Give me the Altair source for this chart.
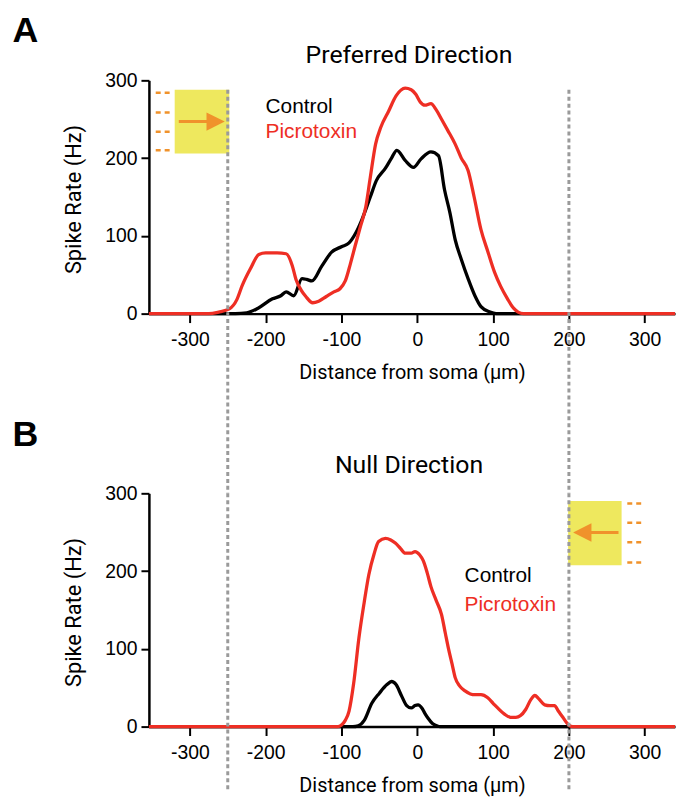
import altair as alt
import pandas as pd

# ---------------- data ----------------
pref_ctrl_x = [-354, -240, -225, -210, -191, -180, -173, -163, -152, -146, -139, -126, -113,
               -100, -90, -81, -73, -62, -54, -42, -34, -27, -16, -5, 5, 18, 28, 36, 43,
               50, 58, 67, 76, 84, 96, 104, 340]
pref_ctrl_y = [0, 0, 1, 7, 19, 23, 28, 23, 45, 44, 42, 61, 79,
               86, 91, 104, 121, 150, 171, 187, 200, 210, 197, 188, 199, 208, 203, 159, 130,
               95, 70, 45, 23, 9, 2, 0, 0]

pref_ptx_x = [-354, -275, -262, -248, -238, -231, -220, -209, -200, -185, -173, -165, -160,
              -153, -147, -138, -130, -120, -110, -102, -95, -88, -82, -75, -68, -62, -55,
              -48, -38, -28, -16, -8, -2, 4, 10, 18, 25, 32, 40, 50, 58, 67, 75, 84, 93,
              102, 110, 119, 127, 133, 140, 340]
pref_ptx_y = [0, 0, 2, 6, 18, 36, 58, 76, 78, 78, 77, 62, 44,
              30, 22, 14, 16, 22, 28, 32, 42, 65, 87, 112, 137, 175, 218,
              240, 260, 280, 290, 288, 282, 272, 268, 270, 262, 250, 236, 218, 200, 184, 150, 108, 80,
              53, 35, 19, 7, 2, 0, 0]

null_ctrl_x = [-354, -85, -78, -70, -60, -50, -40, -34, -28, -21, -14, -8, -3, 1, 6, 10, 14, 20, 26, 30, 340]
null_ctrl_y = [0, 0, 1, 8, 30, 43, 54, 58, 54, 40, 27, 24, 27, 28, 24, 17, 11, 4, 1, 0, 0]

null_ptx_x = [-354, -105, -100, -95, -90, -84, -77, -70, -64, -57, -51, -42, -35, -29, -22, -16,
              -8, -3, 3, 8, 13, 18, 25, 32, 37, 41, 46, 50, 56, 63, 70, 76, 84, 93, 100, 106,
              115, 123, 130, 136, 143, 150, 155, 160, 168, 175, 181, 186, 192, 197, 201, 205, 340]
null_ptx_y = [0, 0, 2, 8, 20, 55, 114, 160, 195, 222, 238, 242, 240, 236, 229, 223,
              223, 225, 221, 213, 198, 180, 162, 144, 120, 101, 80, 63, 52, 46, 42, 41, 41, 37, 30, 24,
              16, 12, 12, 14, 22, 35, 40, 36, 28, 27, 27, 20, 12, 5, 1, 0, 0]

x_ticks = [-300, -200, -100, 0, 100, 200, 300]
y_ticks = [0, 100, 200, 300]
marker_x = [-250, 200]

# stimulus annotation (bar + arrow + dashes), in data units
pref_box = {"x": [-320], "x2": [-248], "y": [206], "y2": [288]}
pref_dash_y = [284, 258.5, 234, 210]
pref_dash_x = (-345, -325)
pref_arrow = {"x": [-314.6], "x2": [-266], "y": [247]}

null_box = {"x": [199], "x2": [269.5], "y": [207.5], "y2": [290]}
null_dash_y = [287, 262, 237, 211]
null_dash_x = (277, 297)
null_arrow = {"x": [217.6], "x2": [265.4], "y": [249.6]}

# ---------------- styling ----------------
W, H = 530, 235
RED = "#EE2E24"
GRAY = "#9a9a9a"
YELLOW = "#EEE85E"
ORANGE = "#F0922B"
TICK_FONT = "Liberation Sans"
TITLE_FONT = "Roboto"
HYPHEN_LABEL = "datum.value < 0 ? '-' + abs(datum.value) : '' + datum.value"

xs = alt.Scale(domain=[-354, 340], nice=False, zero=False)
ys = alt.Scale(domain=[0, 300], nice=False, zero=True)


def x_axis():
    return alt.Axis(values=x_ticks, title="Distance from soma (μm)", grid=False,
                    domainColor="black", domainWidth=2.5, tickColor="black", tickWidth=2,
                    tickSize=9, labelFont=TICK_FONT, labelFontSize=19.5, labelColor="black",
                    labelPadding=8, labelFlush=False, labelOverlap=False,
                    labelExpr=HYPHEN_LABEL,
                    titleFont=TITLE_FONT, titleFontSize=20, titleFontWeight="normal",
                    titleColor="black", titleY=65, titleBaseline="alphabetic")


def y_axis():
    return alt.Axis(values=y_ticks, title="Spike Rate (Hz)", grid=False,
                    domainColor="black", domainWidth=2.5, tickColor="black", tickWidth=2,
                    tickSize=8, labelFont=TICK_FONT, labelFontSize=19.5, labelColor="black",
                    labelPadding=4, labelFlush=False, labelOverlap=False,
                    titleFont=TITLE_FONT, titleFontSize=22, titleFontWeight="normal",
                    titleColor="black", titleX=-69, titleY=119.5, titleAngle=270,
                    titleBaseline="alphabetic", titleAlign="center")


def X(field="x:Q"):
    return alt.X(field, scale=xs, axis=x_axis())


def Y(field="y:Q"):
    return alt.Y(field, scale=ys, axis=y_axis())


def curve(xv, yv, color):
    df = pd.DataFrame({"x": xv, "y": yv})
    return alt.Chart(df).mark_line(interpolate="monotone", strokeWidth=3.3, color=color).encode(
        x=X(), y=Y())


def text(label, px, py, size, color="black", font=TICK_FONT, weight="normal", align="left"):
    return alt.Chart(pd.DataFrame({"t": [label]})).mark_text(
        font=font, fontSize=size, fontWeight=weight, color=color, align=align,
        baseline="alphabetic").encode(x=alt.value(px), y=alt.value(py), text="t:N")


def stimulus(box, dash_y, dash_x, arrow, head_x, head_shape):
    box_l = alt.Chart(pd.DataFrame(box)).mark_rect(color=YELLOW, opacity=1).encode(
        x=X(), x2="x2:Q", y=Y(), y2="y2:Q")
    dashes = alt.Chart(pd.DataFrame({"y": dash_y, "x": [dash_x[0]] * len(dash_y),
                                     "x2": [dash_x[1]] * len(dash_y)})).mark_rule(
        color=ORANGE, strokeWidth=2.5, strokeDash=[5, 4]).encode(
        x=X(), x2="x2:Q", y=Y())
    shaft = alt.Chart(pd.DataFrame(arrow)).mark_rule(color=ORANGE, strokeWidth=3).encode(
        x=X(), x2="x2:Q", y=Y())
    head = alt.Chart(pd.DataFrame({"x": [head_x], "y": arrow["y"]})).mark_point(
        shape=head_shape, filled=True, size=340, color=ORANGE, opacity=1, strokeWidth=0).encode(
        x=X(), y=Y())
    return [box_l, dashes, shaft, head]


def markers(y_top, y_bottom):
    return alt.Chart(pd.DataFrame({"x": marker_x})).mark_rule(
        color=GRAY, strokeWidth=3, strokeDash=[4, 3]).encode(
        x=X(), y=alt.value(y_top), y2=alt.value(y_bottom))


anchor = alt.Chart(pd.DataFrame({"a": [0]})).mark_rule(opacity=0, strokeWidth=1).encode(
    x=alt.value(-150), x2=alt.value(-140), y=alt.value(-78))

panel_a = alt.layer(
    anchor,
    *stimulus(pref_box, pref_dash_y, pref_dash_x, pref_arrow, pref_arrow["x2"][0],
              "M -1 -1 L 1 0 L -1 1 Z"),
    curve(pref_ctrl_x, pref_ctrl_y, "black"),
    curve(pref_ptx_x, pref_ptx_y, RED),
    markers(9.5, H + 181),
    text("Preferred Direction", 262, -17.5, 25, font=TITLE_FONT, align="center"),
    text("Control", 117.5, 32.5, 21),
    text("Picrotoxin", 117.5, 58.5, 21, color=RED),
    text("A", -137.5, -38.5, 36, weight="bold"),
).properties(width=W, height=H)

panel_b = alt.layer(
    *stimulus(null_box, null_dash_y, null_dash_x, null_arrow, null_arrow["x"][0],
              "M 1 -1 L -1 0 L 1 1 Z"),
    curve(null_ctrl_x, null_ctrl_y, "black"),
    curve(null_ptx_x, null_ptx_y, RED),
    markers(0, 300),
    text("Null Direction", 262, -20, 25, font=TITLE_FONT, align="center"),
    text("Control", 318, 89, 21),
    text("Picrotoxin", 318, 119, 21, color=RED),
    text("B", -137.5, -47.5, 36, weight="bold"),
).properties(width=W, height=H)

chart = alt.vconcat(panel_a, panel_b, spacing=181, bounds="flush").properties(
    padding={"left": 0, "top": 0, "right": 0, "bottom": 0}
).configure(background="white").configure_view(stroke=None)

chart.save("out.html", embed_options={"renderer": "svg", "actions": False})
